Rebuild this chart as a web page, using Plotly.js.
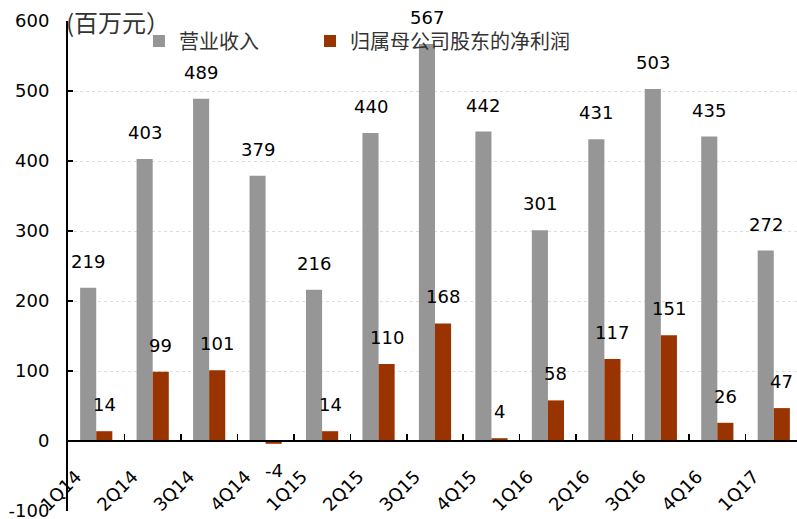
<!DOCTYPE html>
<html>
<head>
<meta charset="utf-8">
<script src="https://cdn.plot.ly/plotly-3.0.1.min.js"></script>
<style>
html,body{margin:0;padding:0;overflow:hidden;background:#fff;}
#chart{width:802px;height:519px;}
</style>
</head>
<body>
<div id="chart"></div>
<script>
const categories = ["1Q14","2Q14","3Q14","4Q14","1Q15","2Q15","3Q15","4Q15","1Q16","2Q16","3Q16","4Q16","1Q17"];
const revenue = [219,403,489,379,216,440,567,442,301,431,503,435,272];
const netProfit = [14,99,101,-4,14,110,168,4,58,117,151,26,47];
const seriesNames = ["营业收入","归属母公司股东的净利润"];
const yTicks = [-100,0,100,200,300,400,500,600];
const unitLabel = "(百万元）";

const NUMFONT = "DejaVu Sans, Liberation Sans, sans-serif";
const CJK = "Noto Sans CJK SC, Liberation Sans, sans-serif";
const GRAY = "#969696";
const RED = "#993300";

const traces = [
  {type:"bar", name:seriesNames[0], x:categories, y:revenue, marker:{color:GRAY}, hoverinfo:"none", legend:"legend"},
  {type:"bar", name:seriesNames[1], x:categories, y:netProfit, marker:{color:RED}, hoverinfo:"none", legend:"legend2"}
];

function labelAnn(vals, xshift){
  return vals.map((v,i)=>({
    x: categories[i], y: v, xref:"x", yref:"y",
    text: String(v), showarrow:false,
    xshift: xshift, yshift: v >= 0 ? 14 : -14,
    yanchor: v >= 0 ? "bottom" : "top",
    font:{family:NUMFONT, size:18, color:"#000"}
  }));
}

const annotations = [
  ...labelAnn(revenue, -8),
  ...labelAnn(netProfit, 8),
  {xref:"paper", yref:"paper", x:-0.006, y:1.0, xanchor:"left", yanchor:"middle",
   text:unitLabel, showarrow:false, font:{family:CJK, size:24, color:"#333"}}
];

const legendBase = {orientation:"h", xref:"paper", yref:"paper", yanchor:"middle",
  xanchor:"left", font:{family:CJK, size:20, color:"#333"}, bgcolor:"rgba(0,0,0,0)"};

const layout = {
  width:802, height:519,
  margin:{l:68, r:0, t:21, b:8},
  paper_bgcolor:"#fff", plot_bgcolor:"#fff",
  barmode:"group", bargap:0.43, bargroupgap:0,
  showlegend:true,
  legend:Object.assign({}, legendBase, {x:0.0967, y:0.959}),
  legend2:Object.assign({}, legendBase, {x:0.3297, y:0.959}),
  xaxis:{type:"category", anchor:"free", position:1/7,
         showline:true, linecolor:"#000", linewidth:2,
         ticks:"inside", tickson:"boundaries", ticklen:6, tickwidth:1.5, tickcolor:"#000",
         tickangle:-45, ticklabelshift:-20, ticklabelstandoff:17,
         tickfont:{family:NUMFONT, size:18, color:"#000"},
         showgrid:false, zeroline:false, fixedrange:true},
  yaxis:{range:[-100,600], tickvals:yTicks, ticktext:yTicks.map(String),
         showline:true, linecolor:"#000", linewidth:2,
         ticks:"inside", ticklen:5, tickwidth:2, tickcolor:"#000",
         ticklabelstandoff:13, ticklabeloverflow:"allow",
         tickfont:{family:NUMFONT, size:18, color:"#000"},
         showgrid:true, gridcolor:"#dedede", gridwidth:1, griddash:"dot",
         zeroline:false, fixedrange:true},
  annotations: annotations
};

Plotly.newPlot("chart", traces, layout, {displayModeBar:false, staticPlot:true});
</script>
</body>
</html>
